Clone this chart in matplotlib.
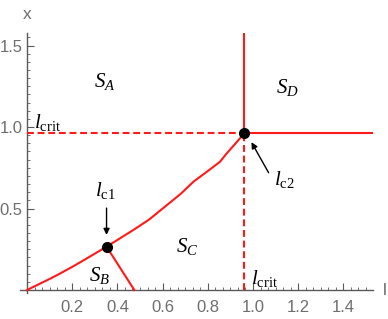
import numpy as np
import matplotlib
matplotlib.use("Agg")
import matplotlib.pyplot as plt

plt.rcParams['mathtext.fontset'] = 'custom'
plt.rcParams['mathtext.rm'] = 'Liberation Serif'
plt.rcParams['mathtext.it'] = 'Liberation Serif:italic'

# ---- data ----
l_crit = 0.962
lc1 = (0.352, 0.266)
curve_l = [0.0, 0.05, 0.10, 0.15, 0.20, 0.25, 0.30, 0.352, 0.41, 0.47, 0.54,
           0.618, 0.68, 0.736, 0.80, 0.854, 0.884, 0.92, 0.962]
curve_x = [0.0, 0.034, 0.068, 0.104, 0.142, 0.182, 0.223, 0.266, 0.316, 0.368,
           0.432, 0.520, 0.590, 0.664, 0.730, 0.787, 0.839, 0.895, 0.962]
sb_l = [0.352, 0.475]
sb_x = [0.266, 0.0]
xticks = [0.2, 0.4, 0.6, 0.8, 1.0, 1.2, 1.4]
yticks = [0.5, 1.0, 1.5]
xlim = (-0.03, 1.53)
ylim = (-0.02, 1.58)

red = '#ff1a1a'
gray = '#5a5a5a'

fig = plt.figure(figsize=(3.88, 3.19), dpi=100)
ax = fig.add_axes([20.2/388, (319-293.3)/319, 352.6/388, 260.8/319])
ax.set_xlim(*xlim)
ax.set_ylim(*ylim)

for s in ['top', 'right']:
    ax.spines[s].set_visible(False)
ax.spines['left'].set_position(('data', 0))
ax.spines['bottom'].set_position(('data', 0))
for s in ['left', 'bottom']:
    ax.spines[s].set_color(gray)
    ax.spines[s].set_linewidth(1.0)

ax.set_xticks(xticks)
ax.set_yticks(yticks)
ax.set_xticks(np.arange(1, 46) / 30.0, minor=True)
ax.set_yticks(np.arange(1, 32) * 0.05, minor=True)
ax.xaxis.set_major_formatter(matplotlib.ticker.FormatStrFormatter('%.1f'))
ax.yaxis.set_major_formatter(matplotlib.ticker.FormatStrFormatter('%.1f'))
ax.tick_params(which='major', direction='in', length=5, width=0.8, color=gray,
               labelcolor='#6e6e6e', labelsize=12)
ax.tick_params(which='minor', direction='in', length=2.5, width=0.6, color=gray)
for lab in ax.get_xticklabels() + ax.get_yticklabels():
    lab.set_family('Liberation Sans')
ax.tick_params(axis='x', pad=7)
ax.tick_params(axis='y', pad=3)

# region boundaries
ax.plot(curve_l, curve_x, color=red, lw=1.5, zorder=3)
ax.plot(sb_l, sb_x, color=red, lw=1.5, zorder=3)
ax.plot([l_crit, l_crit], [l_crit, ylim[1]], color=red, lw=1.5, zorder=3)
ax.plot([l_crit, xlim[1]], [l_crit, l_crit], color=red, lw=1.5, zorder=3)
ax.plot([0, l_crit], [l_crit, l_crit], color=red, lw=1.5, dashes=(3.3, 1.8), zorder=3)
ax.plot([l_crit, l_crit], [0, l_crit], color=red, lw=1.5, dashes=(3.3, 1.8), zorder=3)

ax.plot([lc1[0], l_crit], [lc1[1], l_crit], 'o', color='black', ms=7, zorder=4)

# arrows
ax.annotate('', xy=(lc1[0], lc1[1] + 0.055), xytext=(lc1[0], 0.52),
            arrowprops=dict(arrowstyle='-|>', color='black', lw=1.0, mutation_scale=9))
ax.annotate('', xy=(l_crit + 0.025, l_crit - 0.04), xytext=(1.075, 0.705),
            arrowprops=dict(arrowstyle='-|>', color='black', lw=1.0, mutation_scale=9))

# labels
tk = dict(fontsize=15, ha='center', va='center', color='black')
ax.text(0.345, 1.28, r'$S_A$', **tk)
ax.text(1.15, 1.24, r'$S_D$', **tk)
ax.text(0.32, 0.09, r'$S_B$', **tk)
ax.text(0.71, 0.27, r'$S_C$', **tk)
ax.text(0.345, 0.61, r'$l_{\mathrm{c1}}$', **tk)
ax.text(1.14, 0.68, r'$l_{\mathrm{c2}}$', **tk)
ax.text(0.09, 1.03, r'$l_{\mathrm{crit}}$', **tk)
ax.text(1.05, 0.07, r'$l_{\mathrm{crit}}$', **tk)

ax.text(0, 1.69, 'x', fontsize=12.5, color='#6e6e6e', ha='center', va='center',
        family='Liberation Sans', clip_on=False)
ax.text(1.585, 0.0, 'l', fontsize=12.5, color='#6e6e6e', ha='center', va='center',
        family='Liberation Sans', clip_on=False)

fig.savefig('out.png', dpi=100)
